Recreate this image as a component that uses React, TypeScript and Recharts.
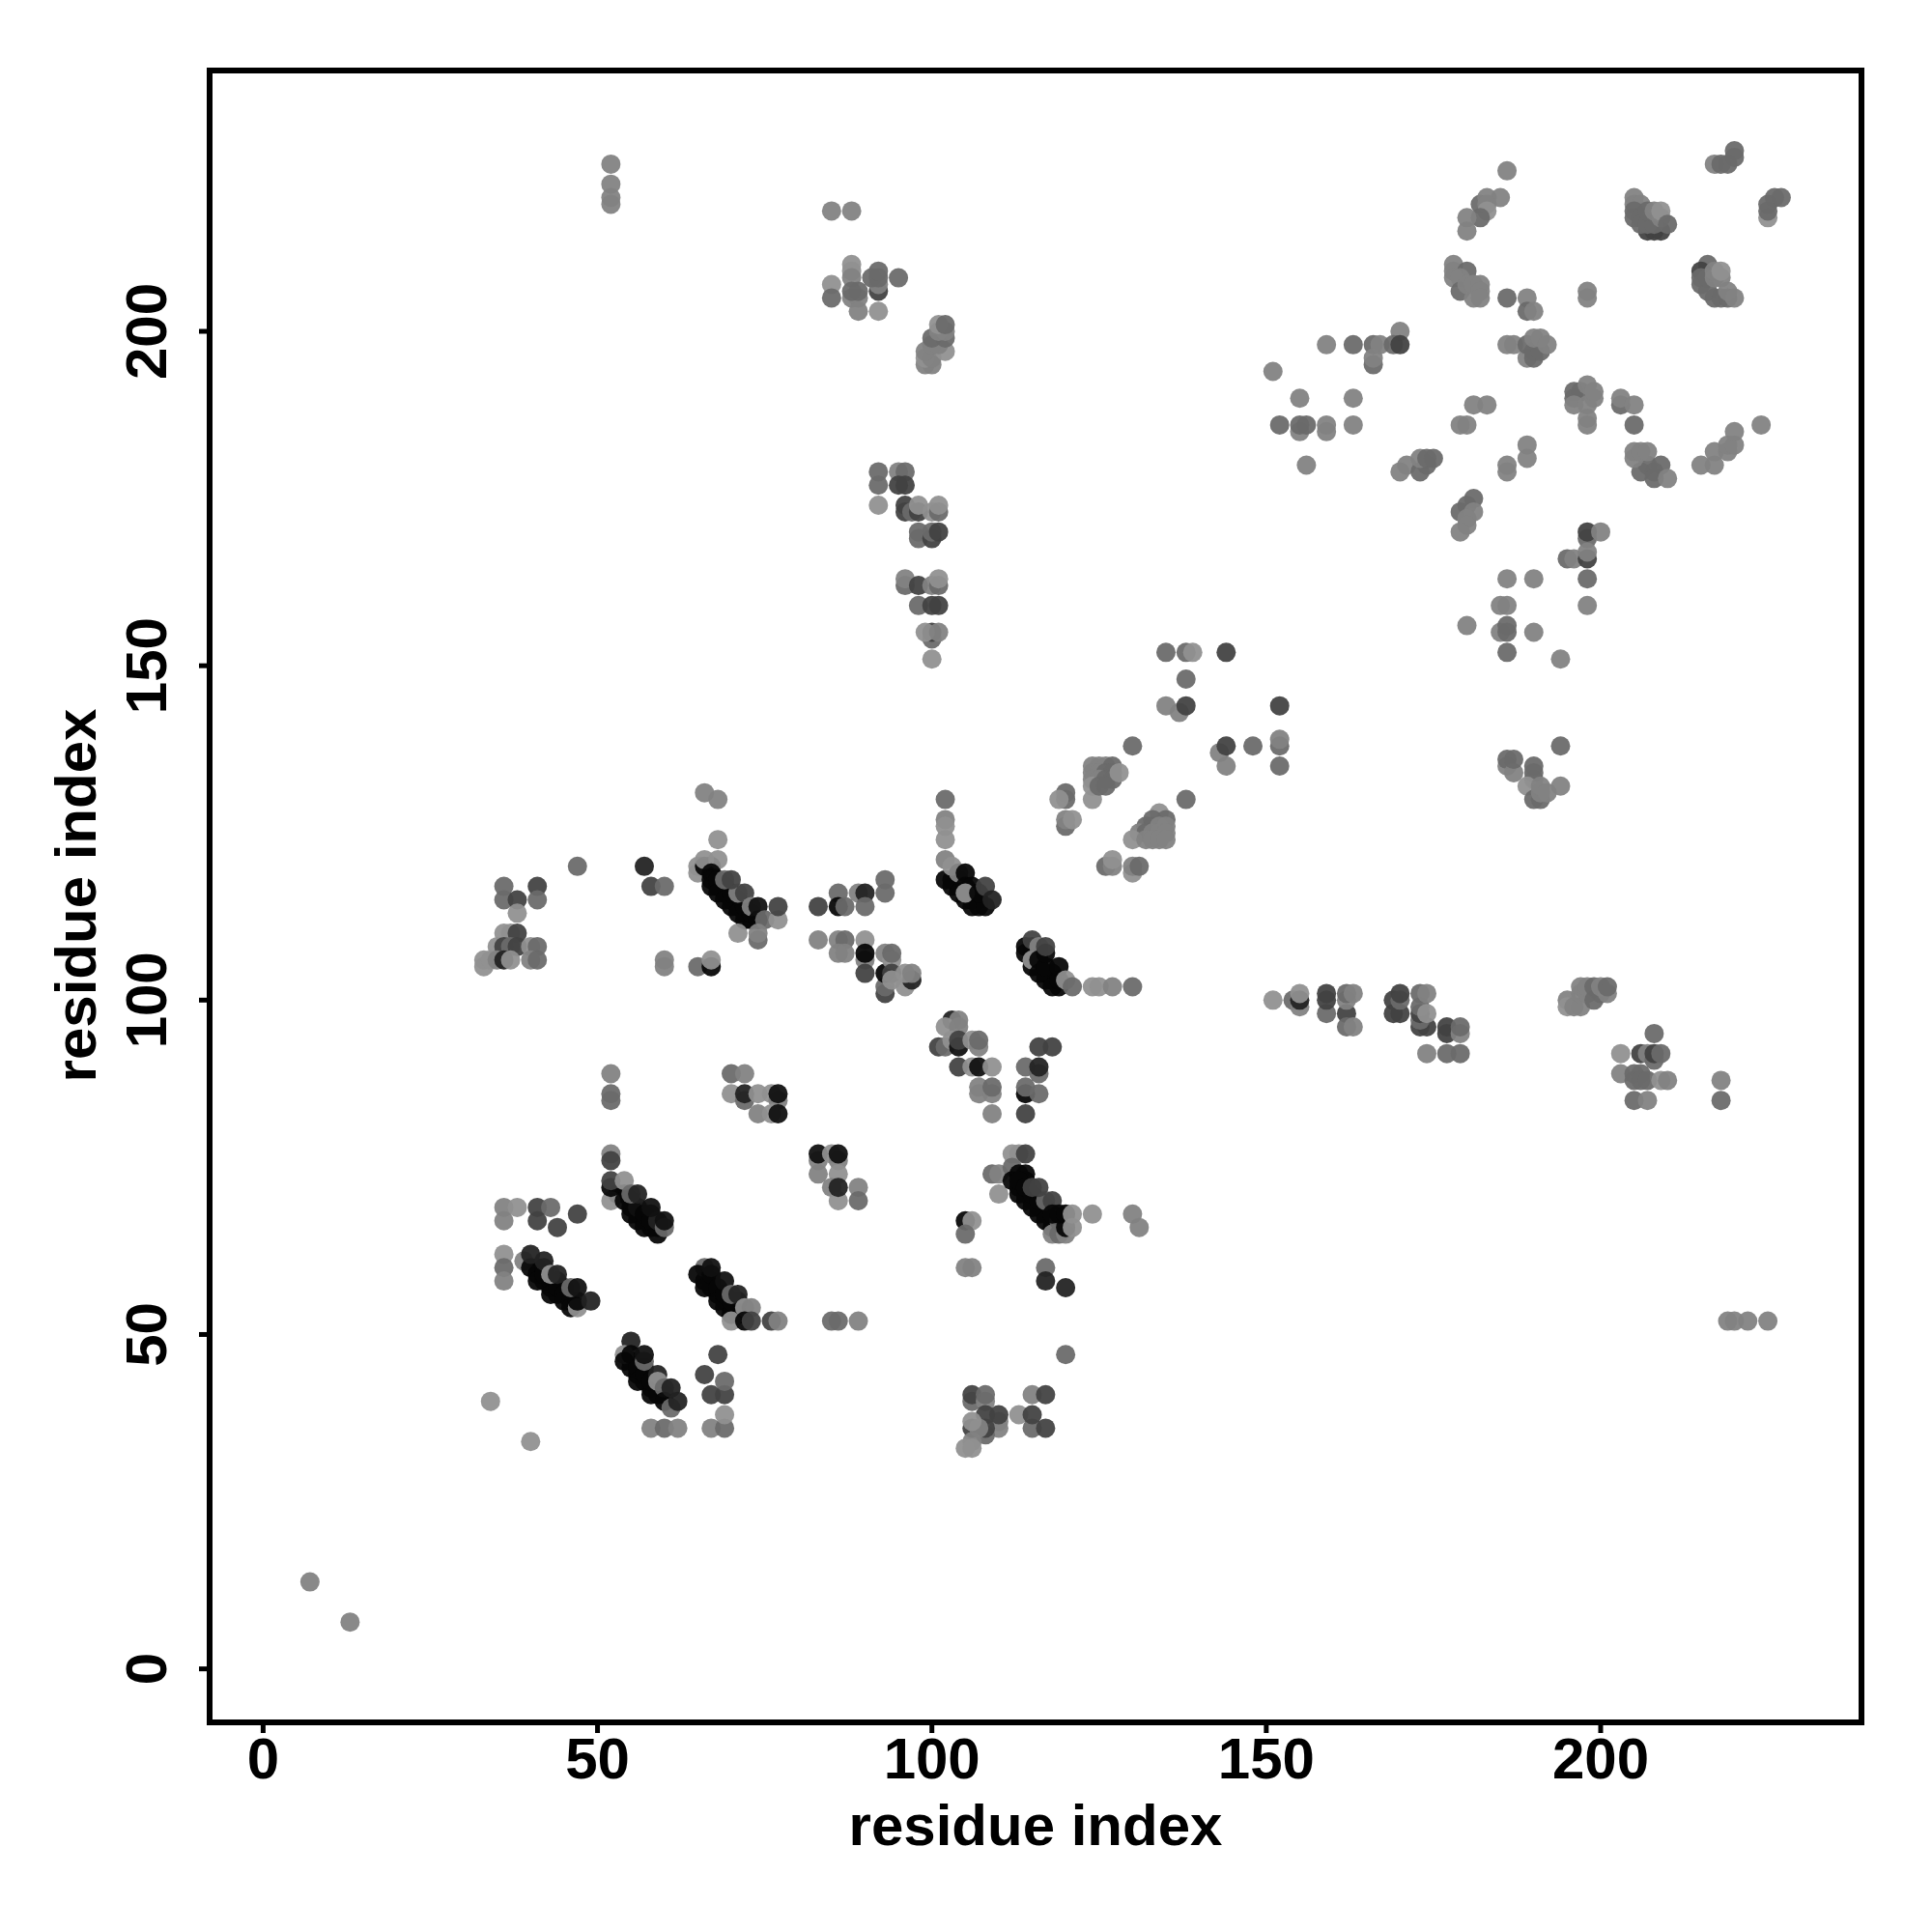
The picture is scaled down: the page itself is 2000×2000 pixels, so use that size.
import { ScatterChart, Scatter, XAxis, YAxis, ReferenceArea } from 'recharts';

// each contact is [residue i, residue j, score]; score 1 is the weakest, 7 the strongest
type Contact = [number, number, number];

const axisTicks = [0, 50, 100, 150, 200];

// strongest contacts along the helix-like diagonals, they sit under everything else
const coreBands: Contact[] = [
  [41, 60, 7], [43, 57, 7], [44, 56, 7], [45, 57, 7], [44, 58, 7], [42, 58, 7],
  [55, 69, 7], [56, 68, 7], [56, 67, 7], [57, 67, 7], [58, 66, 7], [58, 68, 7], [59, 66, 7], [53, 71, 7], [54, 71, 7],
  [66, 58, 7], [67, 58, 7], [67, 57, 7], [68, 56, 7], [69, 55, 7], [69, 54, 7], [70, 54, 7], [71, 53, 7], [71, 55, 7],
  [55, 46, 7], [55, 45, 7], [56, 44, 7], [57, 45, 7], [57, 43, 7], [58, 42, 7], [59, 42, 7], [59, 41, 7], [60, 41, 7],
  [68, 117, 7], [69, 116, 7], [69, 117, 7], [70, 114, 7], [70, 115, 7], [71, 114, 7], [72, 112, 7], [72, 113, 7],
  [73, 112, 7], [71, 115, 7],
  [103, 118, 7], [103, 117, 7], [104, 117, 7], [104, 118, 7], [105, 115, 7], [106, 116, 7], [106, 114, 7], [107, 115, 7],
  [115, 107, 7], [115, 108, 7], [116, 107, 7], [116, 105, 7], [117, 104, 7], [117, 103, 7], [118, 103, 7], [118, 104, 7],
  [119, 102, 7], [115, 105, 7],
  [113, 72, 7], [114, 71, 7], [114, 73, 7], [115, 70, 7], [116, 68, 7], [116, 69, 7], [117, 68, 7], [117, 69, 7],
  [118, 66, 7], [118, 67, 7], [119, 66, 7], [114, 70, 7],
];

const stray: Contact[] = [
  [7, 13, 2], [13, 7, 2], [34, 40, 1], [40, 34, 1],
  [52, 225, 2], [52, 222, 2], [52, 220, 2], [52, 219, 2],
  [219, 52, 2], [220, 52, 2], [222, 52, 2], [225, 52, 2],
  [85, 218, 2], [88, 218, 2], [218, 88, 2], [218, 85, 3],
];

const bandLowA: Contact[] = [
  [36, 69, 2], [38, 69, 1], [41, 69, 4], [43, 69, 3], [47, 68, 4], [41, 67, 4], [44, 66, 4], [36, 67, 2],
  [36, 62, 1], [36, 60, 3], [36, 58, 2], [39, 61, 2],
  [40, 60, 7], [41, 59, 7], [41, 58, 7], [42, 60, 7], [42, 59, 7], [43, 58, 7], [43, 56, 7], [44, 57, 7],
  [45, 56, 7], [45, 55, 7], [46, 55, 7], [46, 54, 7], [47, 54, 1], [47, 55, 7],
  [40, 62, 5], [42, 61, 5], [43, 59, 1], [44, 59, 5], [46, 57, 3], [47, 57, 6], [49, 55, 5],
];

const bandLowB: Contact[] = [
  [52, 77, 2], [52, 76, 4], [52, 70, 1], [52, 72, 7], [52, 73, 4], [54, 73, 1], [54, 70, 7], [55, 68, 7],
  [55, 70, 7], [56, 69, 6], [57, 66, 7], [57, 68, 7], [58, 67, 7], [59, 65, 7], [59, 67, 5], [60, 66, 3],
  [55, 71, 3], [56, 71, 5], [58, 69, 6], [60, 67, 6],
];

const bandLowC: Contact[] = [
  [66, 60, 3], [65, 59, 7], [66, 57, 7], [67, 59, 7], [68, 57, 7], [68, 55, 7], [69, 56, 7], [70, 53, 7],
  [70, 55, 7], [70, 52, 1], [67, 60, 6], [69, 58, 6], [70, 56, 3], [71, 56, 5], [72, 54, 1], [73, 54, 2],
  [72, 52, 7], [73, 52, 4], [76, 52, 4], [77, 52, 2], [85, 52, 3], [86, 52, 3], [89, 52, 2],
];

const bandLowD: Contact[] = [
  [55, 49, 5], [54, 47, 1], [54, 46, 7], [55, 47, 7], [56, 45, 7], [56, 43, 7], [57, 44, 7], [58, 41, 7],
  [58, 43, 7], [57, 46, 3], [57, 47, 6], [59, 44, 5], [59, 43, 1], [60, 42, 3], [60, 40, 7], [61, 39, 3],
  [61, 42, 5], [62, 40, 5], [58, 36, 2], [60, 36, 3], [62, 36, 2], [67, 36, 2], [69, 36, 3], [69, 38, 1],
  [67, 41, 4], [69, 41, 4], [69, 43, 3], [66, 44, 4], [68, 47, 4],
];

const blockFar: Contact[] = [
  [83, 76, 2], [83, 77, 6], [85, 77, 1], [86, 76, 2], [86, 77, 6], [83, 74, 2], [86, 74, 1], [85, 72, 2],
  [86, 70, 1], [86, 72, 5], [89, 72, 2], [89, 70, 3],
];

const bandUpperA: Contact[] = [
  [36, 117, 3], [41, 117, 4], [36, 115, 3], [38, 115, 4], [41, 115, 3], [38, 113, 1],
  [36, 110, 1], [37, 110, 1], [38, 110, 4], [35, 108, 1], [36, 108, 4], [37, 108, 3], [38, 108, 4],
  [40, 108, 1], [41, 108, 3], [40, 106, 2], [41, 106, 3], [33, 106, 1], [33, 105, 1], [34, 106, 1],
  [35, 106, 2], [36, 106, 5], [37, 106, 1], [47, 120, 3], [57, 120, 5], [58, 117, 4], [60, 117, 3],
  [60, 106, 2], [60, 105, 2], [65, 105, 3], [67, 105, 7], [67, 106, 1],
];

const bandUpperB: Contact[] = [
  [66, 131, 2], [68, 130, 2], [68, 124, 1], [65, 120, 1], [65, 119, 1], [66, 120, 7], [67, 120, 7],
  [66, 121, 1], [68, 121, 1], [67, 119, 7], [67, 118, 7], [67, 117, 7], [68, 118, 7], [68, 116, 7],
  [69, 115, 7], [70, 116, 7], [71, 113, 7], [72, 114, 7], [73, 113, 7], [69, 118, 3], [71, 116, 2],
  [70, 118, 4], [72, 116, 4], [73, 114, 2], [74, 112, 7], [74, 114, 6], [75, 112, 3], [77, 112, 1],
  [77, 114, 4], [74, 109, 3], [74, 110, 2], [71, 110, 1],
];

const blockMid: Contact[] = [
  [83, 114, 4], [86, 116, 3], [86, 114, 7], [87, 114, 3], [89, 116, 2], [90, 116, 5], [90, 114, 3],
  [93, 118, 3], [93, 116, 3], [83, 109, 2], [86, 109, 2], [87, 109, 3], [86, 107, 2], [87, 107, 2],
  [90, 109, 1], [90, 106, 2], [90, 107, 7], [90, 104, 4], [93, 101, 4], [93, 102, 3], [93, 104, 7],
  [93, 107, 2], [94, 106, 1], [94, 107, 3], [94, 104, 4], [94, 103, 1], [96, 102, 1], [97, 103, 5],
  [96, 104, 1], [97, 104, 2],
  [52, 89, 2], [52, 86, 3], [52, 85, 3], [70, 89, 3], [72, 89, 2], [70, 86, 1], [72, 85, 3], [72, 86, 5],
  [74, 86, 1], [76, 86, 1], [77, 85, 2], [77, 86, 6], [74, 83, 2], [76, 83, 1], [77, 83, 6],
];

const bandHighA: Contact[] = [
  [102, 130, 3], [102, 127, 2], [102, 126, 1], [102, 124, 1], [102, 118, 7], [102, 121, 2], [103, 120, 1],
  [104, 116, 7], [104, 119, 2], [105, 119, 7], [105, 117, 7], [106, 117, 7], [106, 115, 7], [105, 116, 1],
  [107, 114, 7], [108, 114, 7], [107, 116, 7], [108, 117, 4], [109, 115, 5],
];

const bandHighB: Contact[] = [
  [114, 108, 7], [114, 107, 7], [115, 106, 1], [115, 109, 4], [116, 108, 2], [116, 106, 7], [116, 104, 7],
  [117, 105, 7], [117, 107, 7], [117, 108, 4], [118, 102, 7], [119, 103, 7], [119, 105, 7], [120, 103, 1],
  [121, 102, 3], [124, 102, 1], [125, 102, 1], [127, 102, 2], [130, 102, 3],
];

const blockHigh: Contact[] = [
  [103, 97, 5], [104, 97, 2], [102, 96, 1], [104, 96, 2], [101, 93, 4], [102, 93, 3], [103, 94, 1],
  [104, 93, 6], [104, 94, 4], [106, 94, 1], [107, 93, 2], [107, 94, 3], [104, 90, 4], [106, 90, 1],
  [107, 90, 6], [109, 90, 1], [107, 86, 2], [107, 87, 2], [109, 86, 2], [109, 87, 3], [109, 83, 2],
  [114, 90, 3], [116, 89, 3], [116, 90, 5], [116, 93, 4], [118, 93, 4], [114, 86, 7], [114, 87, 3],
  [116, 86, 3], [114, 83, 4],
];

const bandSideA: Contact[] = [
  [112, 77, 1], [113, 77, 1], [114, 77, 4], [109, 74, 3], [110, 74, 2], [110, 71, 1], [112, 75, 3],
  [112, 73, 7], [113, 74, 7], [114, 74, 7], [113, 71, 7], [113, 73, 7], [114, 72, 7], [115, 69, 7],
  [115, 71, 7], [116, 70, 7], [117, 67, 7], [117, 70, 3], [115, 72, 4], [116, 72, 4], [118, 70, 4],
  [118, 65, 2], [119, 65, 3], [120, 65, 2], [119, 67, 3], [118, 68, 7], [119, 68, 7], [120, 66, 7],
  [120, 68, 7], [121, 66, 1], [121, 68, 1], [124, 68, 1], [130, 68, 2], [131, 66, 2],
  [105, 67, 7], [106, 67, 1], [105, 65, 3], [105, 60, 2], [106, 60, 2], [117, 60, 3], [117, 58, 5], [120, 57, 5],
  [120, 47, 3],
];

const blockLowRight: Contact[] = [
  [106, 40, 3], [106, 41, 4], [108, 40, 2], [108, 41, 3], [110, 36, 2], [110, 37, 2], [110, 38, 4],
  [108, 35, 3], [108, 36, 4], [108, 38, 4], [106, 36, 4], [107, 36, 2], [106, 37, 1], [106, 34, 2],
  [105, 33, 1], [106, 33, 1], [115, 41, 2], [117, 41, 4], [113, 38, 1], [115, 36, 3], [115, 38, 4], [117, 36, 4],
];

const ridgeMiddle: Contact[] = [
  [120, 130, 3], [120, 131, 3], [119, 130, 1], [120, 126, 3], [120, 127, 2], [121, 127, 1], [124, 130, 1],
  [124, 135, 2], [125, 135, 2], [126, 135, 2], [127, 135, 3], [124, 134, 2], [125, 134, 2], [126, 134, 3],
  [127, 134, 3], [124, 133, 2], [125, 133, 2], [126, 133, 3], [127, 133, 3], [124, 132, 1], [125, 132, 3],
  [126, 132, 3], [128, 134, 1], [130, 138, 3], [138, 130, 3],
  [134, 128, 1], [133, 127, 3], [135, 127, 3], [132, 126, 3], [133, 126, 3], [134, 126, 2], [135, 126, 2],
  [131, 125, 2], [132, 125, 3], [133, 125, 2], [134, 125, 2], [135, 125, 2], [130, 124, 1], [132, 124, 2],
  [133, 124, 2], [134, 124, 2], [135, 124, 2], [126, 120, 3], [127, 120, 2], [127, 121, 1], [130, 119, 1],
  [130, 120, 2], [131, 120, 3],
];

const ridgeUpper: Contact[] = [
  [135, 152, 3], [138, 152, 3], [139, 152, 1], [144, 152, 4], [138, 148, 3], [137, 143, 2], [135, 144, 2],
  [138, 144, 4], [152, 144, 4], [143, 137, 2], [144, 138, 4], [144, 135, 2], [148, 138, 3], [152, 138, 3],
  [152, 139, 2], [152, 135, 3],
];

const columnNinety: Contact[] = [
  [92, 179, 3], [95, 179, 2], [96, 179, 3], [92, 177, 3], [95, 177, 4], [96, 177, 4], [92, 174, 1],
  [96, 174, 4], [96, 173, 4], [97, 173, 3], [98, 173, 4], [98, 174, 1], [100, 173, 1], [101, 173, 3],
  [101, 174, 1], [98, 170, 3], [98, 169, 3], [100, 169, 4], [100, 170, 3], [101, 170, 4],
  [96, 162, 3], [96, 163, 2], [98, 162, 4], [100, 162, 2], [101, 162, 3], [101, 163, 1],
  [98, 159, 3], [100, 159, 4], [101, 159, 4], [100, 154, 3], [100, 155, 4], [99, 155, 1], [101, 155, 2], [100, 151, 1],
];

const columnTwoHundred: Contact[] = [
  [88, 210, 1], [88, 209, 1], [88, 208, 2], [85, 207, 1], [85, 205, 3], [88, 205, 2], [89, 205, 2],
  [88, 206, 3], [89, 206, 3], [89, 203, 2], [92, 203, 1], [92, 206, 4], [92, 207, 2], [91, 208, 3],
  [92, 208, 3], [92, 209, 3], [95, 208, 3],
  [99, 195, 2], [100, 195, 2], [99, 196, 1], [100, 196, 2], [99, 197, 2], [102, 197, 1], [100, 198, 2],
  [101, 198, 2], [100, 199, 3], [102, 199, 3], [101, 200, 2], [102, 200, 2], [101, 201, 1], [102, 201, 3],
];

const clusterCorner: Contact[] = [
  [186, 224, 2], [185, 220, 2], [182, 219, 3], [183, 220, 2], [183, 219, 2], [183, 218, 1], [182, 217, 3],
  [180, 217, 2], [180, 215, 2],
  [215, 180, 2], [217, 180, 2], [217, 182, 2], [219, 182, 2], [219, 183, 2], [220, 183, 2], [220, 185, 2], [224, 186, 2],
  [178, 210, 2], [178, 209, 2], [180, 209, 3], [178, 208, 2], [179, 208, 2], [179, 206, 3], [181, 205, 2],
  [180, 207, 2], [181, 207, 2], [182, 207, 2], [182, 206, 2], [182, 205, 2],
  [186, 205, 3], [189, 205, 2], [189, 203, 3], [190, 203, 2], [198, 206, 2], [198, 205, 2],
  [186, 198, 2], [187, 198, 2], [189, 196, 2], [190, 196, 3], [189, 198, 3], [190, 197, 3], [191, 197, 3],
  [190, 199, 2], [191, 199, 2], [192, 198, 2],
];

const clusterTop: Contact[] = [
  [205, 220, 2], [205, 219, 2], [206, 219, 2], [205, 218, 3], [205, 217, 3], [207, 215, 4], [208, 215, 4],
  [209, 215, 4], [206, 217, 3], [206, 216, 3], [207, 216, 3], [208, 216, 3], [207, 218, 3], [208, 218, 2],
  [209, 217, 2], [209, 218, 1], [210, 216, 3],
  [220, 227, 3], [220, 226, 3], [217, 225, 2], [218, 225, 3], [219, 225, 3],
  [225, 217, 1], [225, 218, 3], [225, 219, 3], [226, 220, 3], [227, 220, 3],
  [216, 210, 3], [215, 209, 4], [215, 208, 3], [215, 207, 3], [216, 206, 3], [216, 208, 3], [217, 208, 2],
  [218, 208, 2], [217, 205, 3], [218, 205, 3], [219, 205, 3], [217, 209, 2], [218, 209, 1], [219, 206, 2], [220, 205, 2],
];

const fieldScattered: Contact[] = [
  [151, 194, 2], [159, 198, 2], [163, 198, 3], [166, 198, 3], [167, 198, 2], [170, 200, 2], [169, 198, 3],
  [170, 198, 4], [166, 195, 3], [166, 196, 2], [155, 190, 2], [163, 190, 2], [152, 186, 3], [155, 185, 2],
  [155, 186, 3], [156, 186, 3], [159, 185, 2], [159, 186, 2], [163, 186, 2], [156, 180, 2],
  [181, 189, 2], [183, 189, 2], [179, 186, 2], [180, 186, 2],
  [170, 179, 2], [171, 180, 2], [173, 179, 3], [174, 180, 3], [173, 181, 2], [174, 181, 3], [175, 181, 3],
  [180, 174, 3], [181, 175, 3], [179, 173, 3], [181, 173, 2], [180, 172, 2], [180, 171, 2], [179, 170, 2],
  [186, 179, 2], [186, 180, 2], [189, 183, 2], [189, 181, 2],
  [196, 191, 3], [197, 191, 3], [196, 190, 3], [196, 189, 2], [198, 189, 2], [198, 192, 2], [199, 190, 2],
  [199, 191, 2], [198, 187, 2], [198, 186, 2],
  [203, 189, 3], [203, 190, 2], [205, 189, 2], [205, 186, 3],
  [206, 179, 3], [207, 180, 3], [208, 179, 3], [205, 181, 2], [205, 182, 2], [206, 182, 2], [207, 182, 2],
  [209, 180, 3], [208, 178, 3], [210, 178, 2],
];

const fieldLower: Contact[] = [
  [198, 169, 3], [198, 170, 4], [200, 170, 2], [195, 166, 3], [196, 166, 2], [198, 166, 4], [198, 167, 2],
  [198, 163, 3], [186, 163, 2], [190, 163, 2], [198, 159, 2], [185, 159, 2], [186, 159, 2],
  [180, 156, 2], [185, 155, 2], [186, 155, 3], [186, 156, 3], [190, 155, 2], [186, 152, 3], [194, 151, 2],
  [194, 138, 3], [186, 135, 2], [186, 136, 3], [187, 134, 2], [187, 136, 3], [190, 133, 2], [190, 134, 3],
  [190, 135, 3], [189, 132, 1], [190, 130, 3], [191, 130, 3], [191, 131, 2], [191, 132, 2], [192, 131, 2], [194, 132, 2],
];

const rowHundred: Contact[] = [
  [151, 100, 1], [154, 100, 3], [155, 99, 2], [155, 100, 5], [155, 101, 1],
  [159, 98, 3], [159, 100, 4], [159, 101, 4], [162, 98, 4], [162, 96, 3], [163, 96, 2], [162, 100, 2],
  [162, 101, 3], [163, 101, 2], [169, 98, 4], [170, 98, 4], [169, 100, 4], [170, 100, 3], [170, 101, 4],
  [173, 96, 4], [174, 96, 4], [173, 97, 3], [173, 98, 4], [173, 99, 3], [174, 98, 1], [173, 101, 3], [174, 101, 2],
  [177, 95, 4], [177, 96, 4], [179, 95, 2], [179, 96, 3], [174, 92, 2], [177, 92, 3], [179, 92, 3],
];

const rowEighty: Contact[] = [
  [195, 100, 2], [195, 99, 1], [196, 99, 2], [197, 99, 2], [197, 101, 2], [197, 102, 2], [198, 101, 2],
  [198, 102, 2], [199, 100, 3], [199, 102, 3], [200, 101, 3], [200, 102, 2], [201, 101, 2], [201, 102, 3],
  [208, 95, 3], [203, 92, 1], [206, 92, 4], [207, 92, 2], [208, 91, 3], [208, 92, 4], [209, 92, 3],
  [203, 89, 2], [205, 88, 3], [205, 89, 3], [206, 89, 3], [206, 88, 3], [207, 88, 3], [209, 88, 1], [210, 88, 2],
  [205, 85, 3], [207, 85, 2],
];

const contacts = [
  ...coreBands, ...stray, ...bandLowA, ...bandLowB, ...bandLowC, ...bandLowD, ...blockFar, ...bandUpperA, ...bandUpperB,
  ...blockMid, ...bandHighA, ...bandHighB, ...blockHigh, ...bandSideA, ...blockLowRight, ...ridgeMiddle,
  ...ridgeUpper, ...columnNinety, ...columnTwoHundred, ...clusterCorner, ...clusterTop, ...fieldScattered,
  ...fieldLower, ...rowHundred, ...rowEighty,
].map(([x, y, score]) => ({ x, y, score }));

const greys = [145, 130, 106, 66, 34, 16, 6];
const font = '"Liberation Sans", Arial, sans-serif';

function Dot({ cx, cy, payload }: any) {
  const g = greys[payload.score - 1];
  return <circle cx={cx} cy={cy} r={10} fill={`rgb(${g},${g},${g})`} fillOpacity={0.94} />;
}

function XTick({ x, payload }: any) {
  return (
    <text x={x} y={1841} textAnchor="middle" fontFamily={font} fontWeight="bold" fontSize={60} fill="#000">
      {payload.value}
    </text>
  );
}

function YTick({ y, payload }: any) {
  return (
    <text x={172} y={y} textAnchor="middle" transform={`rotate(-90 172 ${y})`}
      fontFamily={font} fontWeight="bold" fontSize={60} fill="#000">
      {payload.value}
    </text>
  );
}

function XTitle() {
  return (
    <text x={1072} y={1910} textAnchor="middle" fontFamily={font} fontWeight="bold" fontSize={60} fill="#000">
      residue index
    </text>
  );
}

function YTitle() {
  return (
    <text x={99} y={927} textAnchor="middle" transform="rotate(-90 99 927)"
      fontFamily={font} fontWeight="bold" fontSize={60} fill="#000">
      residue index
    </text>
  );
}

export default function App() {
  return (
    <div style={{ position: 'absolute', left: 0, top: 0, width: 2000, height: 2000, background: '#fff' }}>
      <ScatterChart width={2000} height={2000} margin={{ top: 73, right: 73, bottom: 0, left: 0 }}>
        <XAxis type="number" dataKey="x" domain={[-8, 239]} ticks={axisTicks} allowDataOverflow height={217}
          axisLine={false} tickSize={11} tickLine={{ stroke: '#000', strokeWidth: 5 }} tick={<XTick />}
          label={{ content: <XTitle /> }} />
        <YAxis type="number" dataKey="y" domain={[-8, 239]} ticks={axisTicks} allowDataOverflow width={217}
          axisLine={false} tickSize={11} tickLine={{ stroke: '#000', strokeWidth: 5 }} tick={<YTick />}
          label={{ content: <YTitle /> }} />
        <Scatter data={contacts} shape={<Dot />} isAnimationActive={false} />
        <ReferenceArea x1={-8} x2={239} y1={-8} y2={239} fill="none" stroke="#000" strokeWidth={6} />
      </ScatterChart>
    </div>
  );
}
